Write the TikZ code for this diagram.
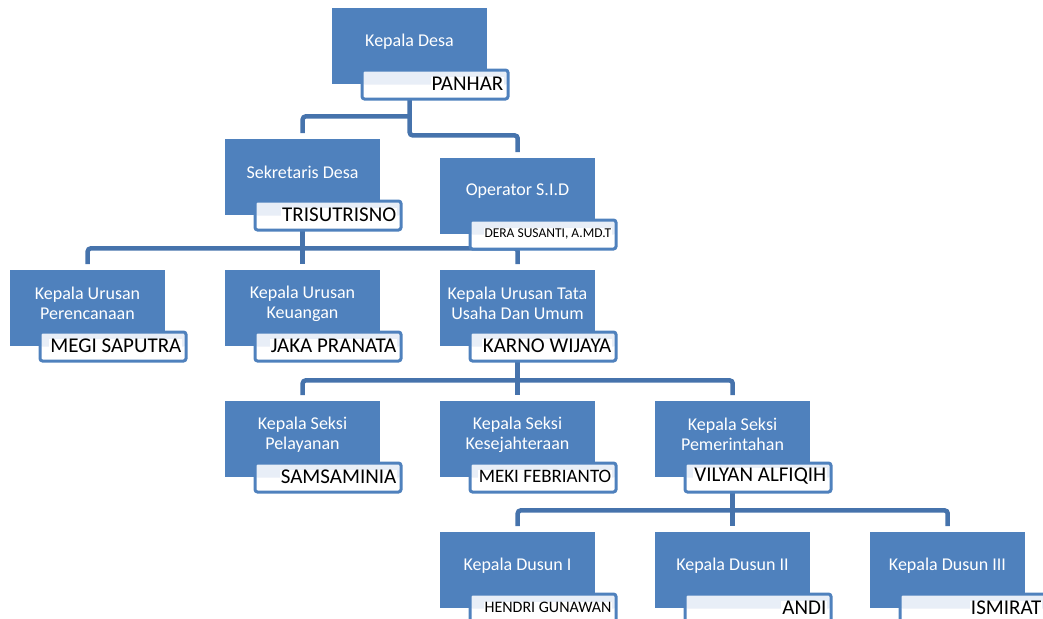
\documentclass[tikz,border=0pt]{standalone}
\usepackage{fontspec}
\setmainfont{Carlito}
\usetikzlibrary{calc,backgrounds}
\definecolor{boxblue}{HTML}{4F81BD}
\definecolor{linkblue}{HTML}{4673AC}
\definecolor{lightfill}{HTML}{E8EEF7}
\tikzset{
 bluebox/.style={fill=boxblue, draw=none, minimum width=155pt, minimum height=76pt, inner sep=0pt, anchor=north west},
 bluetext/.style={text=white, align=center, font=\fontsize{18}{20}\selectfont, inner sep=0pt},
 namebox/.style={draw=boxblue, line width=3pt, rounded corners=2.5pt, fill=white, minimum width=146pt, minimum height=29pt, inner sep=0pt, anchor=north west,
   path picture={\fill[lightfill] (path picture bounding box.north west) rectangle (path picture bounding box.east);}},
 nametext/.style={fill=white, text=black, inner xsep=1pt, inner ysep=0pt, anchor=east},
 conn/.style={draw=linkblue, line width=4.5pt, rounded corners=3pt},
}
\newcommand\orgunit[6]{%
 \node[bluebox] (#1) at (#2,#3) {};
 \node[bluetext] (#1t) at ({#2+77.5},{#3+33.5}) {#4};
 \node[namebox] (#1n) at ({#2+28.5},{#3+60.5}) {};
 \node[nametext, font=\fontsize{#6}{#6}\selectfont] (#1m) at ($(#1n.east)+(-5,-1)$) {#5};
}
\begin{document}
\begin{tikzpicture}[x=1pt,y=-1pt]
\useasboundingbox (0,0) rectangle (1043,618);
\orgunit{kd}{332}{8}{Kepala Desa}{PANHAR}{21}
\orgunit{sek}{225}{139}{Sekretaris Desa}{TRISUTRISNO}{21}
\orgunit{op}{440}{158}{Operator S.I.D}{DERA SUSANTI, A.MD.T}{13.5}
\orgunit{per}{10}{270}{Kepala Urusan\\Perencanaan}{MEGI SAPUTRA}{21}
\orgunit{keu}{225}{270}{Kepala Urusan\\Keuangan}{JAKA PRANATA}{21}
\orgunit{tu}{440}{270}{Kepala Urusan Tata\\Usaha Dan Umum}{KARNO WIJAYA}{21}
\orgunit{pel}{225}{401}{Kepala Seksi\\Pelayanan}{SAMSAMINIA}{21}
\orgunit{kes}{440}{401}{Kepala Seksi\\Kesejahteraan}{MEKI FEBRIANTO}{19}
\orgunit{pem}{655}{401}{Kepala Seksi\\Pemerintahan}{VILYAN ALFIQIH}{21}
\orgunit{da}{440}{532}{Kepala Dusun I}{HENDRI GUNAWAN}{16}
\orgunit{db}{655}{532}{Kepala Dusun II}{ANDI}{21}
\orgunit{dc}{870}{532}{Kepala Dusun III}{ISMIRAT}{21}
\begin{scope}[on background layer]
\draw[conn] (kd.south) -- ($(kd.south)+(0,51)$) -| ($(op.north)+(0,-6)$);
\draw[conn] ($(kd.south)+(0,32)$) -| ($(sek.north)+(0,-6)$);
\draw[conn] ($(per.north)+(0,-6)$) |- ($(sek.south)+(0,33)$) -| ($(tu.north)+(0,-6)$);
\draw[conn] (sek.south) -- ($(keu.north)+(0,-6)$);
\draw[conn] ($(pel.north)+(0,-6)$) |- ($(tu.south)+(0,34)$) -| ($(pem.north)+(0,-6)$);
\draw[conn] (tu.south) -- ($(kes.north)+(0,-6)$);
\draw[conn] ($(da.north)+(0,-6)$) |- ($(pem.south)+(0,33)$) -| ($(dc.north)+(0,-6)$);
\draw[conn] (pem.south) -- ($(db.north)+(0,-6)$);
\end{scope}
\end{tikzpicture}
\end{document}
